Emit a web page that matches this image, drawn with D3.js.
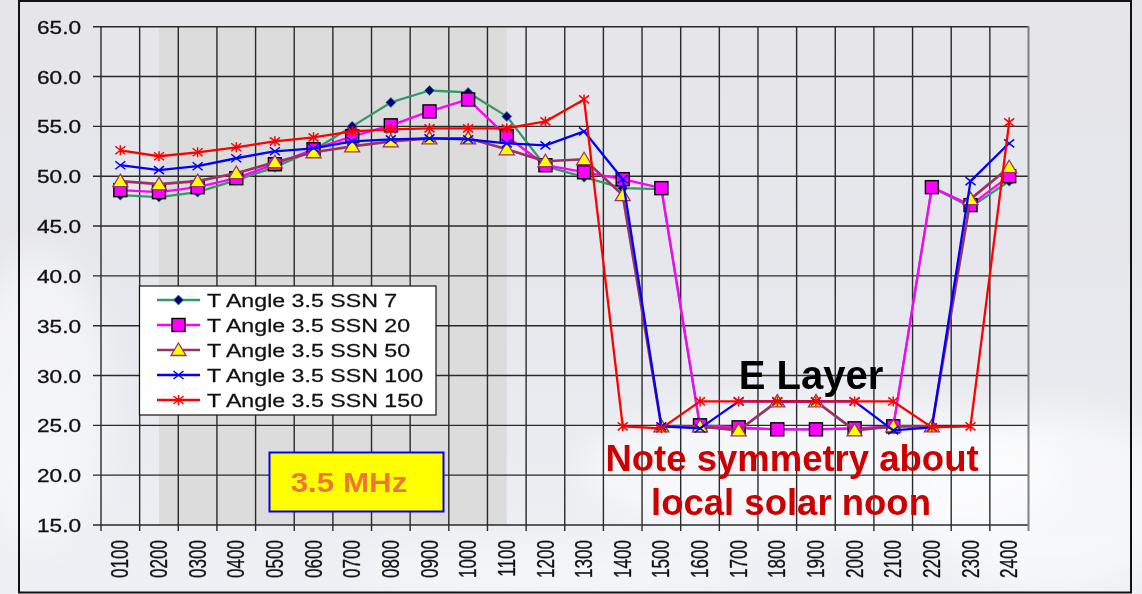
<!DOCTYPE html>
<html>
<head>
<meta charset="utf-8">
<script src="https://cdn.jsdelivr.net/npm/d3@7"></script>
<style>
  body { margin: 0; background: #e8e8ec; }
  svg { display: block; font-family: Arial, "Liberation Sans", sans-serif; }
</style>
</head>
<body>
<svg class="chart"></svg>
<script>
// -------------------- Data --------------------
var hours = ["0100", "0200", "0300", "0400", "0500", "0600", "0700", "0800",
             "0900", "1000", "1100", "1200", "1300", "1400", "1500", "1600",
             "1700", "1800", "1900", "2000", "2100", "2200", "2300", "2400"];

var ssn7   = [48.1, 47.9, 48.4, 49.6, 50.9, 52.6, 55.0, 57.4, 58.6, 58.4, 56.0, 51.0,
              49.9, 48.8, 48.7, 24.8, 24.7, 24.6, 24.6, 24.7, 24.8, 48.9, 46.9, 49.5];
var ssn20  = [48.6, 48.4, 48.9, 49.8, 51.2, 52.7, 54.0, 55.1, 56.5, 57.7, 54.0, 51.1,
              50.4, 49.7, 48.8, 25.0, 24.8, 24.6, 24.6, 24.7, 24.9, 48.9, 47.1, 50.0];
var ssn50  = [49.5, 49.2, 49.5, 50.3, 51.4, 52.4, 53.0, 53.5, 53.8, 53.8, 52.7, 51.5,
              51.7, 48.1, 24.9, 24.9, 24.5, 27.4, 27.4, 24.5, 24.9, 24.9, 47.7, 50.9];
var ssn100 = [51.1, 50.6, 51.0, 51.8, 52.5, 52.8, 53.5, 53.7, 53.8, 53.7, 53.3, 53.1,
              54.5, 49.7, 24.9, 24.7, 27.4, 27.4, 27.4, 27.4, 24.5, 24.8, 49.5, 53.3];
var ssn150 = [52.6, 52.0, 52.4, 52.9, 53.5, 53.9, 54.5, 54.7, 54.8, 54.8, 54.8, 55.5,
              57.7, 24.9, 24.7, 27.4, 27.4, 27.4, 27.4, 27.4, 27.4, 24.8, 24.9, 55.4];

var seriesNames = ["T Angle 3.5 SSN 7", "T Angle 3.5 SSN 20", "T Angle 3.5 SSN 50",
                   "T Angle 3.5 SSN 100", "T Angle 3.5 SSN 150"];
var yTicks = [15, 20, 25, 30, 35, 40, 45, 50, 55, 60, 65];

// daytime shading runs between these two hours
var shadeFrom = "0200", shadeTo = "1100";

// -------------------- Settings --------------------
var W = 1142, H = 594;
var plot = {left: 101, right: 1028.5, top: 26.7, bottom: 525};

var styles = [
  {line: "#339966", width: 2.3, marker: "diamond"},
  {line: "#ff00ff", width: 2.3, marker: "square"},
  {line: "#993366", width: 2.7, marker: "triangle"},
  {line: "#0000ff", width: 2.3, marker: "cross"},
  {line: "#ff0000", width: 2.3, marker: "star"}
];

var svg = d3.select(".chart").attr("width", W).attr("height", H);

// The pasted chart is stretched sideways, so its text is scaled to fit
// the widths.
function fitWidth(sel, target) {
  var w = sel.node().getComputedTextLength();
  return target / w;
}

// -------------------- Background --------------------
var defs = svg.append("defs");
var grad = defs.append("linearGradient").attr("id", "bg")
  .attr("x1", 0).attr("y1", 0).attr("x2", 0).attr("y2", 1);
grad.append("stop").attr("offset", "0").attr("stop-color", "#e5e5ea");
grad.append("stop").attr("offset", "0.45").attr("stop-color", "#e6e7ec");
grad.append("stop").attr("offset", "1").attr("stop-color", "#edf0f5");
defs.append("filter").attr("id", "blur")
  .append("feGaussianBlur").attr("stdDeviation", 18);

svg.append("rect").attr("width", W).attr("height", H).attr("fill", "url(#bg)");

// soft clouds
var clouds = svg.append("g").attr("filter", "url(#blur)").attr("fill", "#ffffff");
clouds.append("ellipse").attr("cx", 40).attr("cy", 400).attr("rx", 70).attr("ry", 150).attr("opacity", 0.5);
clouds.append("ellipse").attr("cx", 820).attr("cy", 470).attr("rx", 240).attr("ry", 70).attr("opacity", 0.6);
clouds.append("ellipse").attr("cx", 1050).attr("cy", 500).attr("rx", 130).attr("ry", 90).attr("opacity", 0.55);
clouds.append("ellipse").attr("cx", 550).attr("cy", 570).attr("rx", 200).attr("ry", 30).attr("opacity", 0.4);

// chart border
svg.append("rect")
  .attr("x", 19).attr("y", 1).attr("width", 1112).attr("height", 591.5)
  .attr("fill", "none").attr("stroke", "#111").attr("stroke-width", 2);

// -------------------- Scales --------------------
var x = d3.scaleBand().domain(hours).range([plot.left, plot.right]).padding(0);
var y = d3.scaleLinear().domain([15, 65]).range([plot.bottom, plot.top]);
var cx = function(h) { return x(h) + x.bandwidth() / 2; };

// shaded daytime block
svg.append("rect")
  .attr("x", cx(shadeFrom)).attr("y", plot.top)
  .attr("width", cx(shadeTo) - cx(shadeFrom))
  .attr("height", plot.bottom - plot.top)
  .attr("fill", "#dcdcdc");

// -------------------- Grid & Axes --------------------
var grid = svg.append("g").attr("stroke", "#2a2a2a").attr("stroke-width", 1.4);

grid.selectAll("line.h").data(yTicks).enter().append("line")
  .attr("x1", plot.left - 8).attr("x2", plot.right)
  .attr("y1", function(d) { return y(d); })
  .attr("y2", function(d) { return y(d); });

grid.selectAll("line.v").data(hours).enter().append("line")
  .attr("x1", function(d) { return x(d); })
  .attr("x2", function(d) { return x(d); })
  .attr("y1", plot.top).attr("y2", plot.bottom + 6);

svg.append("line")
  .attr("x1", plot.right).attr("x2", plot.right)
  .attr("y1", plot.top - 0.7).attr("y2", plot.bottom + 6)
  .attr("stroke", "#808080").attr("stroke-width", 2);

// y labels: "65.0" is about 44px wide
var ylab = svg.selectAll("text.ylab").data(yTicks).enter().append("text")
  .attr("class", "ylab")
  .attr("text-anchor", "end")
  .attr("dominant-baseline", "central")
  .attr("font-size", 17.5)
  .attr("fill", "#111")
  .attr("stroke", "#111").attr("stroke-width", 0.3)
  .text(function(d) { return d.toFixed(1); });
var ys = fitWidth(ylab.filter(function(d) { return d === 65; }), 44);
ylab.attr("transform", function(d) { return "translate(81," + (y(d) + 1) + ") scale(" + ys + ",1)"; });

// x labels, rotated: "0100" runs about 38px, glyphs about 16px thick
var xlab = svg.selectAll("text.xlab").data(hours).enter().append("text")
  .attr("class", "xlab")
  .attr("text-anchor", "end")
  .attr("dominant-baseline", "central")
  .attr("font-size", 17)
  .attr("fill", "#111")
  .attr("stroke", "#111").attr("stroke-width", 0.25)
  .text(function(d) { return d; });
var xsAlong = fitWidth(xlab.filter(function(d, i) { return i === 0; }), 38);
xlab.attr("transform", function(d) {
  return "translate(" + (cx(d) - 0.5) + ",540) scale(1.4," + xsAlong + ") rotate(-90)";
});

// -------------------- Markers --------------------
function drawMarker(g, type, px, py) {
  if (type === "diamond") {
    g.append("path")
      .attr("d", "M" + px + "," + (py - 5) + "L" + (px + 5) + "," + py + "L" + px + "," + (py + 5) + "L" + (px - 5) + "," + py + "Z")
      .attr("fill", "#000080").attr("stroke", "#339966").attr("stroke-width", 0.8);
  } else if (type === "square") {
    g.append("rect")
      .attr("x", px - 6.5).attr("y", py - 6.5).attr("width", 13).attr("height", 13)
      .attr("fill", "#ff00ff").attr("stroke", "#000").attr("stroke-width", 1.4);
  } else if (type === "triangle") {
    g.append("path")
      .attr("d", "M" + px + "," + (py - 7) + "L" + (px + 7.5) + "," + (py + 5.5) + "L" + (px - 7.5) + "," + (py + 5.5) + "Z")
      .attr("fill", "#ffff00").attr("stroke", "#993366").attr("stroke-width", 1.3);
  } else if (type === "cross") {
    g.append("path")
      .attr("d", "M" + (px - 5) + "," + (py - 4) + "L" + (px + 5) + "," + (py + 4) + "M" + (px + 5) + "," + (py - 4) + "L" + (px - 5) + "," + (py + 4))
      .attr("stroke", "#0000ff").attr("stroke-width", 1.5).attr("fill", "none");
  } else {
    g.append("path")
      .attr("d", "M" + (px - 5) + "," + (py - 4) + "L" + (px + 5) + "," + (py + 4) + "M" + (px + 5) + "," + (py - 4) + "L" + (px - 5) + "," + (py + 4) +
                 "M" + px + "," + (py - 5) + "L" + px + "," + (py + 5))
      .attr("stroke", "#ff0000").attr("stroke-width", 1.5).attr("fill", "none");
  }
}

// -------------------- Series --------------------
var allSeries = [ssn7, ssn20, ssn50, ssn100, ssn150];
var line = d3.line()
  .x(function(d, i) { return cx(hours[i]); })
  .y(function(d) { return y(d); });

allSeries.forEach(function(values, s) {
  var g = svg.append("g");
  g.append("path")
    .attr("d", line(values))
    .attr("fill", "none")
    .attr("stroke", styles[s].line)
    .attr("stroke-width", styles[s].width)
    .attr("stroke-linejoin", "round");
  values.forEach(function(v, i) {
    drawMarker(g, styles[s].marker, cx(hours[i]), y(v));
  });
});

// -------------------- Legend --------------------
var legend = svg.append("g");
legend.append("rect")
  .attr("x", 139.5).attr("y", 286).attr("width", 296.5).attr("height", 129)
  .attr("fill", "#fff").attr("stroke", "#111").attr("stroke-width", 1.2);

var legTexts = [];
seriesNames.forEach(function(name, i) {
  var ly = 300 + i * 25;
  legend.append("line")
    .attr("x1", 157).attr("x2", 200).attr("y1", ly).attr("y2", ly)
    .attr("stroke", styles[i].line).attr("stroke-width", styles[i].width);
  drawMarker(legend, styles[i].marker, 178.5, ly);
  var t = legend.append("text")
    .attr("dominant-baseline", "central")
    .attr("font-size", 17.8)
    .attr("fill", "#111")
    .attr("stroke", "#111").attr("stroke-width", 0.25)
    .attr("data-y", ly + 1)
    .text(name);
  legTexts.push(t);
});
// "T Angle 3.5 SSN 150" is about 216px wide
var ls = fitWidth(legTexts[4], 216);
legTexts.forEach(function(t) {
  t.attr("transform", "translate(207," + t.attr("data-y") + ") scale(" + ls + ",1)");
});

// -------------------- Annotations --------------------
svg.append("rect")
  .attr("x", 269.5).attr("y", 452.5).attr("width", 174).attr("height", 59)
  .attr("fill", "#ffff00").attr("stroke", "#0000ff").attr("stroke-width", 2);
svg.append("text")
  .attr("transform", "translate(349,492) scale(1.12,1)")
  .attr("text-anchor", "middle")
  .attr("font-size", 28).attr("font-weight", "bold")
  .attr("fill", "#ee7733")
  .text("3.5 MHz");

svg.append("text")
  .attr("x", 811).attr("y", 389)
  .attr("text-anchor", "middle")
  .attr("font-size", 40).attr("font-weight", "bold")
  .attr("fill", "#000")
  .text("E Layer");

svg.append("text")
  .attr("x", 792).attr("y", 471)
  .attr("text-anchor", "middle")
  .attr("font-size", 36.5).attr("font-weight", "bold")
  .attr("fill", "#cc0000")
  .text("Note symmetry about");

svg.append("text")
  .attr("x", 791).attr("y", 515)
  .attr("text-anchor", "middle")
  .attr("font-size", 36.5).attr("font-weight", "bold")
  .attr("fill", "#cc0000")
  .text("local solar noon");
</script>
</body>
</html>
